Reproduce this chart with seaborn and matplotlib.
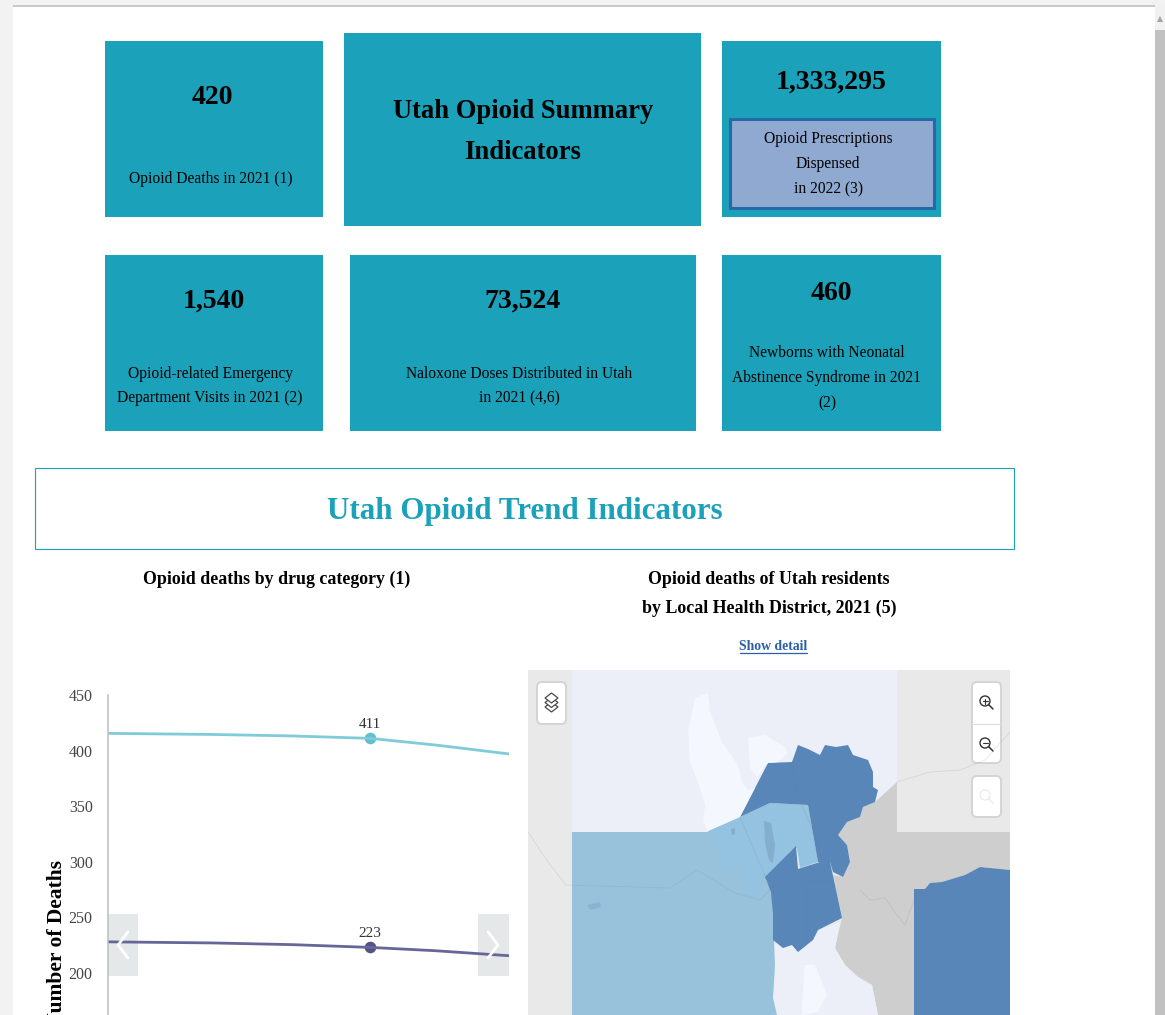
import matplotlib
matplotlib.use("Agg")
import matplotlib.pyplot as plt
from matplotlib.patches import Rectangle, FancyBboxPatch, Polygon, Circle
import pandas as pd
import seaborn as sns

# trend chart (x is in years, chart window is cropped)
years = [2020.0, 2020.4, 2020.7, 2021.0, 2021.25, 2021.53]
all_opioids = [415.5, 414.5, 413.2, 411, 405, 397]
prescription = [228, 227, 225.5, 223, 220, 215.5]
point_year = [2021, 2021]
point_value = [411, 223]
y_ticks = [200, 250, 300, 350, 400, 450]

# indicator tiles
tile_numbers = ["420", "1,333,295", "1,540", "73,524", "460"]
tile_captions = [
    "Opioid Deaths in 2021 (1)",
    "Opioid Prescriptions\nDispensed\nin 2022 (3)",
    "Opioid-related Emergency\nDepartment Visits in 2021 (2)",
    "Naloxone Doses Distributed in Utah\nin 2021 (4,6)",
    "Newborns with Neonatal\nAbstinence Syndrome in 2021\n(2)",
]

# map shapes, in reference pixels
region_west = [(572, 832), (708, 832), (740, 817), (765, 878), (772, 892), (775, 965), (773, 998), (777, 1015), (572, 1015)]
region_mid = [(708, 831), (740, 817), (770, 803), (808, 805), (812, 828), (818, 862), (800, 868), (797, 848), (792, 850), (766, 878), (755, 898), (748, 895), (738, 865), (722, 872), (717, 852), (708, 833)]
region_north = [(740, 817), (755, 788), (768, 763), (792, 762), (798, 745), (808, 749), (820, 755), (825, 745), (836, 747), (848, 745), (853, 755), (868, 760), (873, 772), (873, 787), (878, 790), (875, 802), (863, 807), (860, 817), (847, 822), (838, 835), (847, 845), (850, 862), (843, 877), (833, 872), (830, 862), (818, 862), (812, 828), (808, 805), (770, 803)]
region_south = [(796, 846), (798, 869), (820, 862), (830, 862), (835, 885), (842, 918), (818, 930), (813, 940), (798, 952), (792, 945), (783, 948), (773, 940), (773, 915), (771, 892), (765, 877)]
region_east = [(914, 889), (925, 889), (930, 883), (942, 882), (965, 875), (980, 867), (1010, 870), (1010, 1015), (914, 1015)]
region_gray = [(897, 782), (875, 802), (863, 807), (860, 817), (847, 822), (838, 835), (847, 845), (850, 862), (843, 877), (833, 875), (842, 918), (835, 948), (845, 965), (858, 977), (872, 985), (878, 1015), (914, 1015), (914, 889), (925, 889), (930, 883), (942, 882), (965, 875), (980, 867), (1010, 870), (1010, 832), (897, 832)]
region_low = [(772, 942), (783, 948), (792, 945), (798, 952), (813, 940), (818, 930), (840, 922), (835, 948), (845, 965), (858, 977), (872, 985), (878, 1015), (777, 1015), (773, 998), (775, 965)]
lake_big = [(688, 732), (695, 698), (708, 693), (710, 712), (722, 742), (738, 765), (742, 782), (748, 790), (755, 788), (740, 817), (708, 831), (703, 822), (705, 805), (698, 782), (690, 762)]
lake_small = [(748, 738), (765, 735), (785, 747), (788, 753), (778, 762), (768, 763), (757, 777), (750, 768)]
lake_low = [(805, 965), (815, 965), (822, 982), (827, 995), (818, 1012), (802, 1015), (802, 1002)]
pond_mid = [(764, 821), (771, 823), (775, 845), (773, 863), (769, 860), (765, 843)]
pond_west = [(731, 829), (735, 828), (735, 834), (732, 835)]
pond_far = [(587, 905), (600, 902), (601, 907), (590, 910)]
map_lines = [
    [(528, 832), (548, 862), (566, 885), (670, 888), (697, 870), (735, 893), (760, 900), (780, 880)],
    [(897, 782), (930, 772), (960, 770), (985, 760), (1010, 732)],
    [(740, 817), (766, 878)],
    [(792, 762), (797, 795), (812, 828), (822, 860)],
    [(860, 890), (870, 900), (885, 898), (897, 915), (905, 925), (914, 900)],
    [(798, 880), (830, 880)],
    [(805, 885), (805, 945)],
]

sns.set_theme(style="white")
plt.rcParams["font.family"] = ["Liberation Serif", "DejaVu Serif"]

teal = "#1ba1b9"
fig = plt.figure(figsize=(11.65, 10.15), dpi=100, facecolor="white")

# page layer in pixels
page = fig.add_axes([0, 0, 1, 1])
page.set_xlim(0, 1165)
page.set_ylim(1015, 0)
page.axis("off")


def box(x0, y0, x1, y1, **kw):
    page.add_patch(Rectangle((x0, y0), x1 - x0, y1 - y0, **kw))


def label(x, y, s, size, weight="normal", color="black", **kw):
    page.text(x, y, s, fontsize=size, fontweight=weight, color=color, ha="center", va="center", **kw)


# browser chrome
box(0, 0, 1165, 5, fc="#f2f2f2", ec="none")
box(13, 5, 1155, 7, fc="#c9c9c9", ec="none")
box(0, 5, 13, 1015, fc="#f2f2f2", ec="none")
box(1155, 5, 1165, 1015, fc="#f1f1f1", ec="none")
box(1155, 30, 1165, 1015, fc="#c1c1c1", ec="none")
page.add_patch(Polygon([(1157, 22), (1160, 16), (1163, 22)], fc="#a3a3a3", ec="none"))

# tiles
box(105, 41, 323, 217, fc=teal, ec="none")
box(344, 33, 701, 226, fc=teal, ec="none")
box(722, 41, 941, 217, fc=teal, ec="none")
box(105, 255, 323, 431, fc=teal, ec="none")
box(350, 255, 696, 431, fc=teal, ec="none")
box(722, 255, 941, 431, fc=teal, ec="none")
box(729.5, 118.5, 933.5, 207.5, fc="#8fa9d1", ec="#2469a8", lw=2.2)

num_size = 20
cap_size = 11.2
cap_ls = 1.75
label(212, 97, tile_numbers[0], num_size, "bold")
label(211, 179, tile_captions[0], cap_size)
label(523, 132, "Utah Opioid Summary\nIndicators", 19.2, "bold", linespacing=1.8)
label(831, 82, tile_numbers[1], num_size, "bold")
label(828, 164, tile_captions[1], cap_size, linespacing=cap_ls)
label(214, 301, tile_numbers[2], num_size, "bold")
label(210, 386, tile_captions[2], cap_size, linespacing=cap_ls)
label(523, 301, tile_numbers[3], num_size, "bold")
label(519, 386, tile_captions[3], cap_size, linespacing=cap_ls)
label(831, 294, tile_numbers[4], num_size, "bold")
label(827, 378, tile_captions[4], cap_size, linespacing=cap_ls)

# section header
box(35, 468, 1014, 548.5, fc="white", ec=teal, lw=0.8)
label(525, 511, "Utah Opioid Trend Indicators", 22.3, "bold", color=teal)
label(277, 579, "Opioid deaths by drug category (1)", 12.9, "bold")
label(769, 594, "Opioid deaths of Utah residents\nby Local Health District, 2021 (5)", 12.9, "bold", linespacing=1.85)
label(773, 646, "Show detail", 9.9, "bold", color="#2b5fa8")
page.plot([740, 807], [653, 653], color="#2b5fa8", lw=0.9)

# map
box(528, 670, 1010, 1015, fc="#e9e9e9", ec="none")
box(572, 670, 897, 832, fc="#eceff7", ec="none")
for shape, color in [
    (region_gray, "#cecece"),
    (region_low, "#eceff7"),
    (region_west, "#98c2dc"),
    (region_mid, "#93c3e0"),
    (region_north, "#5886b8"),
    (region_south, "#5886b8"),
    (region_east, "#5886b8"),
    (lake_big, "#f4f7fd"),
    (lake_small, "#f4f7fd"),
    (lake_low, "#f4f7fd"),
    (pond_mid, "#83aecd"),
    (pond_west, "#83aecd"),
    (pond_far, "#88b4d2"),
]:
    page.add_patch(Polygon(shape, fc=color, ec="none"))
for line in map_lines:
    page.plot([p[0] for p in line], [p[1] for p in line], color="#707a88", alpha=0.13, lw=0.8)


def button(x0, y0, x1, y1):
    page.add_patch(FancyBboxPatch((x0 + 3, y0 + 3), x1 - x0 - 6, y1 - y0 - 6, boxstyle="round,pad=3,rounding_size=5",
                                  fc="white", ec="#d4d4d4", lw=1.4))


def magnifier(x, y, color, sign=None):
    page.add_patch(Circle((x, y), 5, fc="none", ec=color, lw=1))
    page.plot([x + 3.5, x + 8], [y + 3.5, y + 8], color=color, lw=1.1)
    if sign:
        page.plot([x - 2.5, x + 2.5], [y, y], color=color, lw=0.8)
    if sign == "+":
        page.plot([x, x], [y - 2.5, y + 2.5], color=color, lw=0.8)


button(537, 682, 566, 724)
for dy in [9, 4.5, 0]:
    page.add_patch(Polygon([(551.5, 693 + dy), (558, 698 + dy), (551.5, 703 + dy), (545, 698 + dy)], fc="white", ec="#4a4a4a", lw=0.9))
button(972, 682, 1001, 763)
page.plot([972, 1001], [724, 724], color="#dddddd", lw=0.8)
magnifier(985, 701, "#333333", "+")
magnifier(985, 743, "#333333", "-")
button(972, 776, 1001, 817)
magnifier(985, 795, "#ececec")

# carousel arrows sit behind the lines
box(108, 914, 138, 976, fc="#e5e8e9", ec="none")
box(478, 914, 509, 976, fc="#e5e8e9", ec="none")

# trend chart
ax = fig.add_axes([108 / 1165, 0, 401 / 1165, 320 / 1015])
ax.patch.set_alpha(0)
df = pd.DataFrame({"year": years, "all": all_opioids, "rx": prescription})
sns.lineplot(data=df, x="year", y="all", color="#7fcbd9", lw=2, ax=ax)
sns.lineplot(data=df, x="year", y="rx", color="#66669a", lw=2, ax=ax)
sns.scatterplot(x=point_year[:1], y=point_value[:1], color="#62bfd0", s=70, linewidth=0, ax=ax)
sns.scatterplot(x=point_year[1:], y=point_value[1:], color="#525288", s=70, linewidth=0, ax=ax)
for yr, v in zip(point_year, point_value):
    ax.annotate(str(v), (yr, v), xytext=(0, 5), textcoords="offset points", ha="center", va="bottom",
                fontsize=11, color="#333333")
ax.set_xlim(2020, 2021.53)
ax.set_ylim(162.2, 450)
ax.set_yticks(y_ticks)
ax.set_xticks([])
ax.set_xlabel("")
ax.set_ylabel("")
ax.tick_params(axis="y", length=0, pad=11, labelsize=11.5, labelcolor="#444444")
sns.despine(ax=ax, top=True, right=True, bottom=True)
ax.spines["left"].set_color("#bdbdbd")
ax.spines["left"].set_linewidth(1.1)

# chevrons and axis title go on top
over = fig.add_axes([0, 0, 1, 1], facecolor="none")
over.set_xlim(0, 1165)
over.set_ylim(1015, 0)
over.axis("off")
over.plot([128, 118, 128], [932, 945, 958], color="white", lw=2)
over.plot([488, 498, 488], [932, 945, 958], color="white", lw=2)
over.text(57, 860, "Number of Deaths", rotation=90, ha="center", va="top", fontsize=15.5,
          fontweight="bold", color="black", clip_on=False)

fig.savefig("out.png", dpi=100, facecolor="white")
